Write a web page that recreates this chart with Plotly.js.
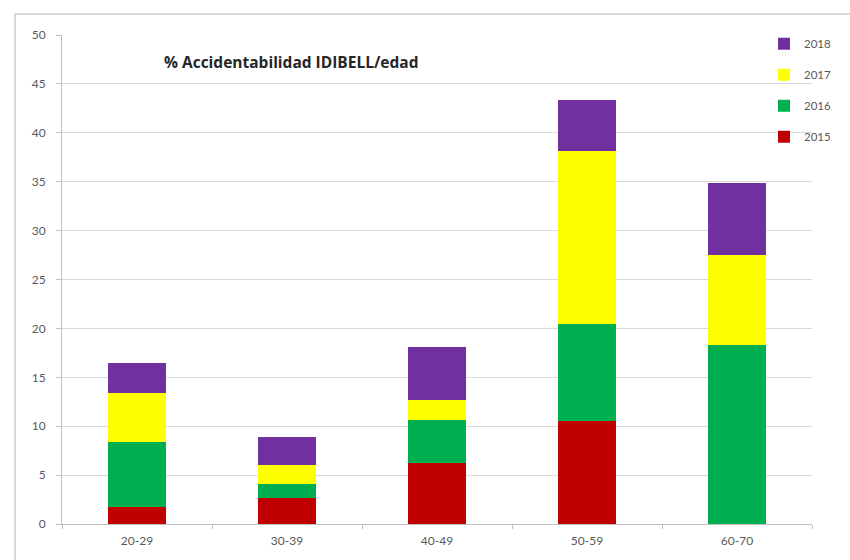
<!DOCTYPE html>
<html>
<head>
<meta charset="utf-8">
<script src="https://cdn.plot.ly/plotly-3.0.1.min.js"></script>
<style>
  html, body { margin: 0; padding: 0; background: #ffffff; }
  #chart { width: 850px; height: 560px; }
</style>
</head>
<body>
<div id="chart"></div>
<script>
const categories = ["20-29", "30-39", "40-49", "50-59", "60-70"];
const v2015 = [1.7, 2.7, 6.2, 10.5, 0];
const v2016 = [6.7, 1.4, 4.4, 10.0, 18.3];
const v2017 = [5.0, 1.9, 2.1, 17.6, 9.2];
const v2018 = [3.1, 2.9, 5.4, 5.3, 7.4];
const seriesNames = ["2015", "2016", "2017", "2018"];
const titleText = "% Accidentabilidad IDIBELL/edad";

const colors = ["#C00000", "#00B050", "#FFFF00", "#7030A0"];
const values = [v2015, v2016, v2017, v2018];

const traces = values.map((v, i) => ({
  type: "bar",
  name: seriesNames[i],
  x: categories,
  y: v,
  marker: { color: colors[i], line: { width: 0 } },
  legendgroup: "g" + i,
  legendrank: 100 - i,
  hoverinfo: "x+y+name"
}));

const layout = {
  width: 850,
  height: 560,
  barmode: "stack",
  bargap: 0.61,
  paper_bgcolor: "#ffffff",
  plot_bgcolor: "#ffffff",
  margin: { l: 62, r: 38, t: 35, b: 36, autoexpand: false },
  font: { family: "Lato, 'Open Sans', sans-serif", size: 11, color: "#595959" },
  showlegend: true,
  legend: {
    x: 0.936, xanchor: "left",
    y: 1.012, yanchor: "top",
    traceorder: "grouped",
    tracegroupgap: 12,
    bgcolor: "rgba(0,0,0,0)",
    font: { size: 11.5, color: "#595959" },
    itemwidth: 30
  },
  xaxis: {
    type: "category",
    showgrid: false,
    showline: true,
    linecolor: "#bfbfbf",
    linewidth: 1,
    ticks: "outside",
    tickson: "boundaries",
    ticklen: 4,
    tickcolor: "#bfbfbf",
    ticklabelstandoff: 6,
    tickfont: { size: 12, color: "#595959" },
    fixedrange: true
  },
  yaxis: {
    range: [0, 50],
    dtick: 5,
    tick0: 0,
    showgrid: true,
    gridcolor: "#d9d9d9",
    gridwidth: 1,
    zeroline: false,
    showline: true,
    linecolor: "#bfbfbf",
    linewidth: 1,
    ticks: "outside",
    ticklen: 5,
    tickcolor: "#bfbfbf",
    ticklabelstandoff: 8,
    tickfont: { size: 12, color: "#595959" },
    fixedrange: true
  },
  annotations: [{
    text: "<b>" + titleText + "</b>",
    xref: "paper", yref: "paper",
    x: 0.133, y: 0.945,
    xanchor: "left", yanchor: "middle",
    showarrow: false,
    font: { family: "'Open Sans', sans-serif", size: 15.5, color: "#262626" }
  }],
  shapes: [{
    type: "rect",
    xref: "paper", yref: "paper",
    x0: -0.0627, x1: 1.2,
    y0: -0.2, y1: 1.043,
    line: { color: "#d9d9d9", width: 2 },
    fillcolor: "rgba(0,0,0,0)",
    layer: "below"
  }]
};

Plotly.newPlot("chart", traces, layout, { displayModeBar: false, staticPlot: true });
</script>
</body>
</html>
